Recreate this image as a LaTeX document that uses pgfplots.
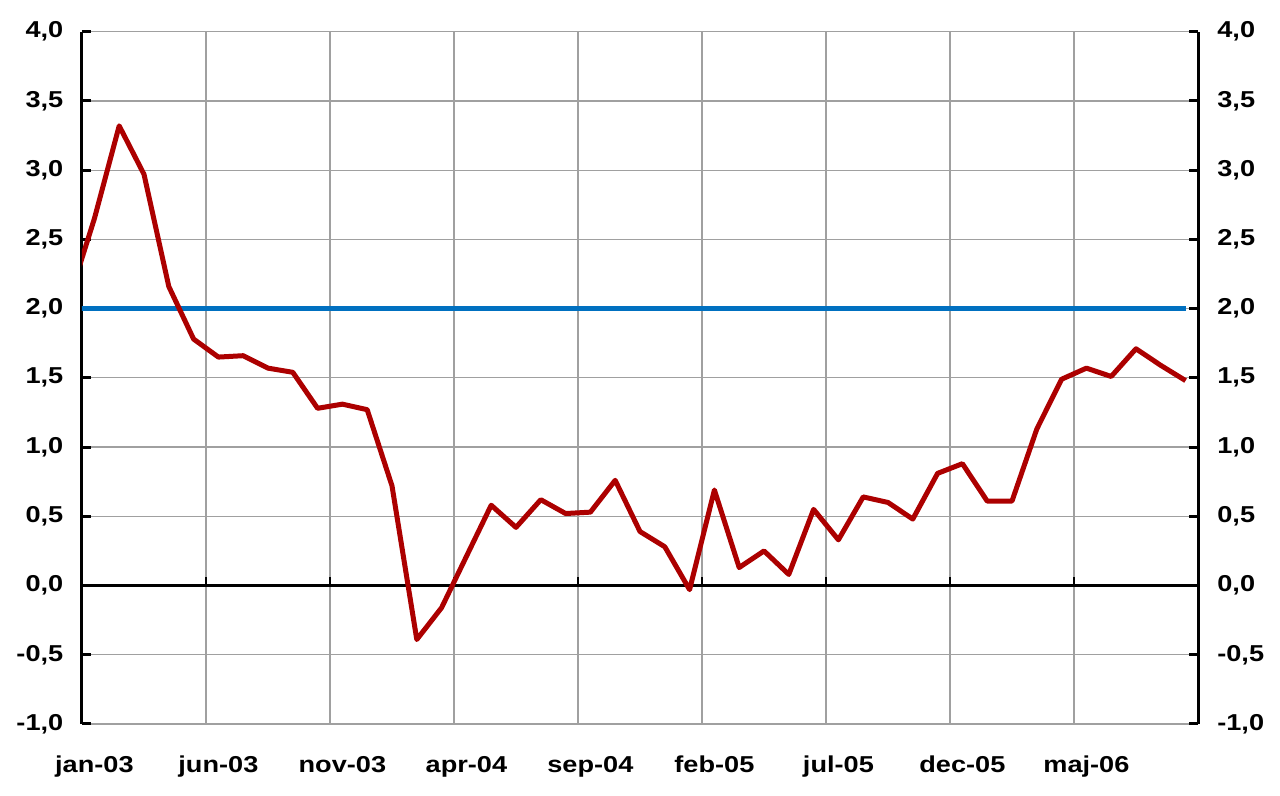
\documentclass[border=0pt]{standalone}
\usepackage{fontspec}
\setmainfont{Liberation Sans}
\usepackage{pgfplots}
\usepackage{pgfplotstable}
\pgfplotsset{compat=1.18}

\definecolor{linered}{RGB}{172,0,0}
\definecolor{lineblue}{RGB}{0,112,192}
\definecolor{gridgray}{RGB}{160,160,160}

% monthly values, 0 = jan-03 (the -1 point is only there so the line runs to the axis)
\pgfplotstableread{
x y
-1 2.08
0 2.65
1 3.32
2 2.97
3 2.16
4 1.78
5 1.65
6 1.66
7 1.57
8 1.54
9 1.28
10 1.31
11 1.27
12 0.72
13 -0.39
14 -0.16
15 0.21
16 0.58
17 0.42
18 0.62
19 0.52
20 0.53
21 0.76
22 0.39
23 0.28
24 -0.03
25 0.69
26 0.13
27 0.25
28 0.08
29 0.55
30 0.33
31 0.64
32 0.60
33 0.48
34 0.81
35 0.88
36 0.61
37 0.61
38 1.13
39 1.49
40 1.57
41 1.51
42 1.71
43 1.59
44 1.48
}\inflation

\pgfplotstableread{
x y
-1 2.0
44 2.0
}\target

\begin{document}
\begin{tikzpicture}
\useasboundingbox (-41pt,-36pt) rectangle (599pt,362pt);
\pgfplotsset{
  chartbase/.style={
    scale only axis, width=558pt, height=346.15pt,
    xmin=-0.5, xmax=44.5, ymin=-1, ymax=4,
    ytick={-1,-0.5,0,0.5,1,1.5,2,2.5,3,3.5,4},
    yticklabels={{-1,0},{-0,5},{0,0},{0,5},{1,0},{1,5},{2,0},{2,5},{3,0},{3,5},{4,0}},
    ticklabel style={font=\bfseries\fontsize{11.5}{13}\selectfont, xscale=1.18, inner sep=0pt},
    tick align=inside,
    y axis line style={black, line width=1.5pt},
    ytick style={black, line width=1.5pt},
    major tick length=4.4pt,
  }
}
\begin{axis}[chartbase,
  axis x line*=bottom, axis y line*=left,
  x axis line style={draw=none},
  xtick={0,5,10,15,20,25,30,35,40},
  xticklabels={jan-03,jun-03,nov-03,apr-04,sep-04,feb-05,jul-05,dec-05,maj-06},
  xtick style={draw=none},
  xticklabel style={anchor=base, yshift=-24.5pt},
  yticklabel style={anchor=east, xshift=-7.75pt},
  ymajorgrids,
  grid style={gridgray, line width=0.65pt},
  extra x ticks={4.5,9.5,14.5,19.5,24.5,29.5,34.5,39.5},
  extra x tick labels={},
  extra x tick style={grid=major},
]
\draw[black, line width=1.3pt] (axis cs:-0.5,0) -- (axis cs:44.5,0);
\pgfplotsinvokeforeach{4.5,9.5,14.5,19.5,24.5,29.5,34.5,39.5}{
  \draw[black, line width=1.2pt] (axis cs:#1,0) -- ++(0pt,4.4pt);
}
\addplot[lineblue, line width=2.5pt] table[x=x, y=y] {\target};
\addplot[linered, line width=2.5pt, line join=round] table[x=x, y=y] {\inflation};
\end{axis}

\begin{axis}[chartbase,
  axis x line=none, axis y line*=right,
  yticklabel style={anchor=west, xshift=8pt},
]
\end{axis}
\end{tikzpicture}
\end{document}
